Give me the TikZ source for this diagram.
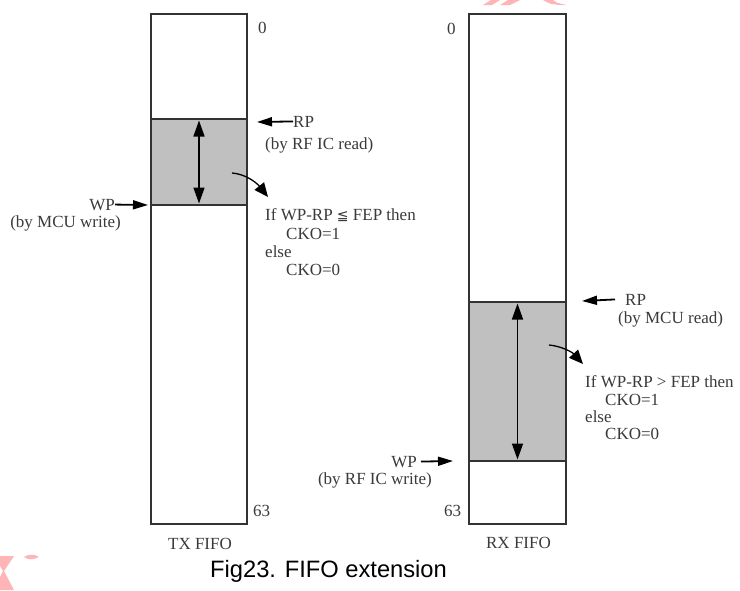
\documentclass[tikz,border=0pt]{standalone}
\usepackage{fontspec}
\setmainfont{Liberation Serif}
\newfontfamily\capfont{Liberation Sans}
\newfontfamily\djv{DejaVu Sans}
\usetikzlibrary{arrows.meta}
\definecolor{lc}{HTML}{333333}
\definecolor{tc}{HTML}{3A3A3A}
\definecolor{bufgray}{HTML}{C0C0C0}
\definecolor{wm}{HTML}{FFB5B5}
\begin{document}
\begin{tikzpicture}[x=1pt,y=-1pt,
  fifo/.style={draw=lc, line width=2pt, inner sep=0pt, outer sep=0pt},
  buf/.style={fifo, fill=bufgray},
  txt/.style={font=\fontsize{17}{18}\selectfont, text=tc, inner sep=0pt, anchor=base west},
  txtr/.style={txt, anchor=base east},
  arr/.style={-{Triangle[length=15pt,width=9pt]}, line width=1.8pt, draw=black},
  darr/.style={{Triangle[length=16pt,width=11pt]}-{Triangle[length=16pt,width=11pt]}, line width=1.5pt, draw=black, shorten <=1.5pt, shorten >=1.5pt},
  carr/.style={-{Triangle[length=14pt,width=12pt]}, line width=1.3pt, draw=black}]
\useasboundingbox[fill=white] (0,0) rectangle (740,590);

% watermark fragments
\fill[wm] (483,5) -- (491,0) -- (500,0) -- (492,5) -- cycle;
\fill[wm] (500,5) -- (508,0) -- (520,0) -- (510,5) -- cycle;
\fill[wm] (543,0) -- (553,0) .. controls (557,3) .. (567,5) -- (560,5) .. controls (550,4) .. cycle;
\fill[wm] (0,556) -- (14,556) -- (4,571) -- (14,590) -- (0,590) -- (0,577) -- (3,571) -- (0,566) -- cycle;
\fill[wm] (24,557) .. controls (28,554) and (35,554) .. (39,557) .. controls (33,560) and (28,560) .. cycle;

% ---------------- TX FIFO ----------------
\node[fifo, minimum width=96pt, minimum height=510pt] (tx) at (199,269) {};
\node[buf, minimum width=96pt, minimum height=86pt] (txbuf) at (199,162) {};
\draw[darr] (txbuf.north) -- (txbuf.south);

\node[txt] (tx0) at (258,33) {0};
\node[txt] (tx63) at (253,516) {63};
\node[txt, anchor=base] (txname) at (200,549) {TX FIFO};

\node[txt] (txrp) at (293,127) {RP};
\coordinate (txrptip) at (257,122);
\draw[arr] (txrp.west) -- (txrptip);
\node[txt] (txrpby) at (265,149) {(by RF IC read)};

\node[txtr] (txwp) at (115,210) {WP};
\coordinate (txwptip) at (148,205);
\draw[arr] (txwp.east) -- (txwptip);
\node[txtr] (txwpby) at (121,227) {(by MCU write)};

\coordinate (txct) at (232,173);
\coordinate (txch) at (268,197);
\draw[carr] (txct) .. controls (245,174) and (256,182) .. (txch);
\node[txt] (txc1) at (265,220) {If WP-RP {\djv\fontsize{14}{18}\selectfont ≦} FEP then};
\node[txt] (txc2) at (286,239) {CKO=1};
\node[txt] (txc3) at (265,257) {else};
\node[txt] (txc4) at (286,275) {CKO=0};

% ---------------- RX FIFO ----------------
\node[fifo, minimum width=97pt, minimum height=510pt] (rx) at (517.5,269) {};
\node[buf, minimum width=97pt, minimum height=159pt] (rxbuf) at (517.5,381.5) {};
\draw[darr] (rxbuf.north) -- (rxbuf.south);

\node[txt] (rx0) at (447,34) {0};
\node[txt] (rx63) at (444,516) {63};
\node[txt, anchor=base] (rxname) at (518.5,548) {RX FIFO};

\node[txt] (rxrp) at (625,305) {RP};
\coordinate (rxrptip) at (582,301);
\draw[arr] (rxrp.west) ++(-10,0) coordinate (rxrptail) (rxrptail) -- (rxrptip);
\node[txt] (rxrpby) at (618,323) {(by MCU read)};

\node[txtr] (rxwp) at (417,467) {WP};
\coordinate (rxwptip) at (453,461);
\draw[arr] (rxwp.east) ++(4,0) coordinate (rxwptail) (rxwptail) -- (rxwptip);
\node[txtr] (rxwpby) at (432,484) {(by RF IC write)};

\coordinate (rxct) at (549,345);
\coordinate (rxch) at (583,364);
\draw[carr] (rxct) .. controls (561,346) and (572,352) .. (rxch);
\node[txt] (rxc1) at (585,387) {If WP-RP > FEP then};
\node[txt] (rxc2) at (605,405) {CKO=1};
\node[txt] (rxc3) at (585,422) {else};
\node[txt] (rxc4) at (605,439) {CKO=0};

% caption
\node[font=\capfont\fontsize{23.7}{26}\selectfont, inner sep=0pt, anchor=base west] (caption) at (210,577) {Fig23. FIFO extension};
\end{tikzpicture}
\end{document}
